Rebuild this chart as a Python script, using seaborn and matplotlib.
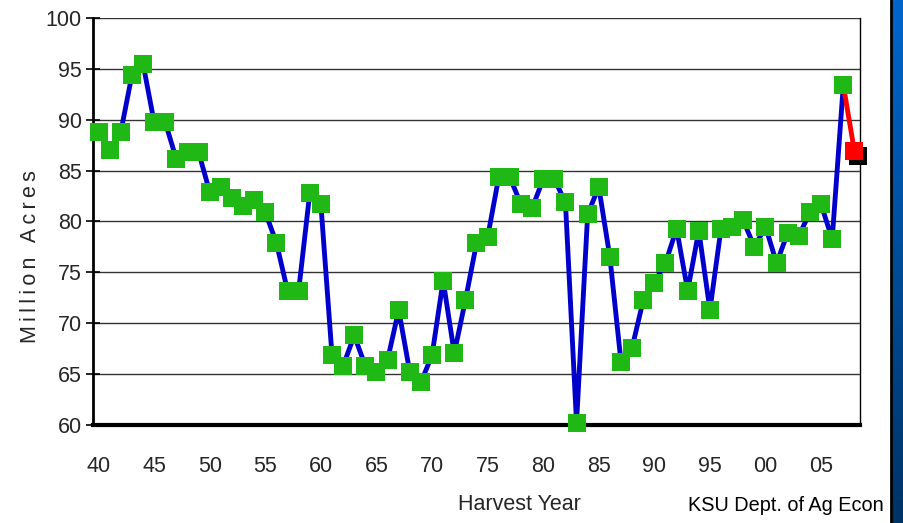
import matplotlib
matplotlib.use("Agg")
import matplotlib.pyplot as plt
import seaborn as sns
import numpy as np
import pandas as pd

# Planted acres by harvest year, 1940-2008
years = list(range(1940, 2009))
acres = [88.8, 87.0, 88.8, 94.4, 95.5, 89.75, 89.75, 86.1, 86.8, 86.8,
         82.9, 83.4, 82.3, 81.5, 82.1, 80.9, 77.9, 73.2, 73.2, 82.8,
         81.7, 66.85, 65.8, 68.8, 65.8, 65.2, 66.4, 71.3, 65.2, 64.2,
         66.85, 74.2, 67.05, 72.25, 77.85, 78.45, 84.35, 84.35, 81.7, 81.3,
         84.15, 84.15, 81.9, 60.2, 80.7, 83.4, 76.5, 66.2, 67.6, 72.25,
         74.0, 75.9, 79.3, 73.2, 79.1, 71.3, 79.3, 79.5, 80.1, 77.5,
         79.5, 75.9, 78.9, 78.6, 80.9, 81.7, 78.25, 93.4, 86.9]
tick_years = list(range(1940, 2006, 5))
tick_labels = ["40", "45", "50", "55", "60", "65", "70", "75", "80", "85",
               "90", "95", "00", "05"]
y_ticks = [60, 65, 70, 75, 80, 85, 90, 95, 100]

df = pd.DataFrame({"year": years, "acres": acres})
hist = df[df["year"] <= 2007]
proj = df[df["year"] >= 2007]
last = df[df["year"] == 2008]

sns.set_style("white")
plt.rcParams["font.family"] = ["Liberation Sans", "DejaVu Sans"]

fig = plt.figure(figsize=(9.04, 5.23), dpi=100)
ax = fig.add_axes([0.1029, 0.1874, 0.8484, 0.7782])

green = "#1fb814"
sns.lineplot(x="year", y="acres", data=hist, color="#0000cc", linewidth=3.5,
             ax=ax, zorder=2)
sns.lineplot(x="year", y="acres", data=proj, color="#ff0000", linewidth=3.5,
             ax=ax, zorder=2)
sns.scatterplot(x="year", y="acres", data=hist, marker="s", s=150,
                color=green, linewidth=0, ax=ax, zorder=3, clip_on=False)
# shadowed red marker for the latest year
sns.scatterplot(x=last["year"] + 0.3, y=last["acres"] - 0.45, marker="s",
                s=170, color="black", linewidth=0, ax=ax, zorder=3,
                clip_on=False)
sns.scatterplot(x="year", y="acres", data=last, marker="s", s=170,
                color="#ff0000", linewidth=0, ax=ax, zorder=4, clip_on=False)

ax.set_xlim(1939.5, 2008.5)
ax.set_ylim(60, 100)
ax.set_yticks(y_ticks)
ax.set_yticklabels([str(v) for v in y_ticks], fontsize=15.5)
ax.set_xticks(tick_years)
ax.set_xticklabels(tick_labels, fontsize=15.5)
ax.set_xticks([y - 0.5 for y in tick_years], minor=True)
ax.tick_params(axis="x", which="major", length=0, pad=22)
ax.tick_params(axis="x", which="minor", direction="in", length=7,
               width=1.2, color="black")
ax.tick_params(axis="y", direction="inout", length=10, width=1.2,
               color="black", pad=3, left=True)

ax.grid(axis="y", color="#333333", linewidth=1)
ax.set_axisbelow(True)
for side in ["left", "bottom", "right"]:
    ax.spines[side].set_color("black")
ax.spines["left"].set_linewidth(2)
ax.spines["bottom"].set_linewidth(3)
ax.spines["right"].set_linewidth(1)
ax.spines["top"].set_visible(False)

ax.set_xlabel("")
ax.set_ylabel("")
fig.text(0.575, 0.035, "Harvest Year", fontsize=15.5, ha="center",
         va="center")
fig.text(0.034, 0.509, "\u2009".join("Million Acres"), fontsize=15.5,
         rotation=90, ha="center", va="center")
fig.text(0.761, 0.022, "KSU Dept. of Ag Econ", fontsize=14.3, color="black")

# blue band at the right edge
band = fig.add_axes([0.986, 0.0, 0.014, 1.0])
grad = np.linspace(0, 1, 256).reshape(-1, 1)
band.imshow(grad, aspect="auto", cmap=matplotlib.colors.LinearSegmentedColormap.from_list(
    "band", ["#0066cc", "#003366"]))
band.axis("off")
fig.add_artist(plt.Line2D([0.986, 0.986], [0, 1], color="black", linewidth=2,
                          transform=fig.transFigure))

fig.savefig("out.png", dpi=100)
